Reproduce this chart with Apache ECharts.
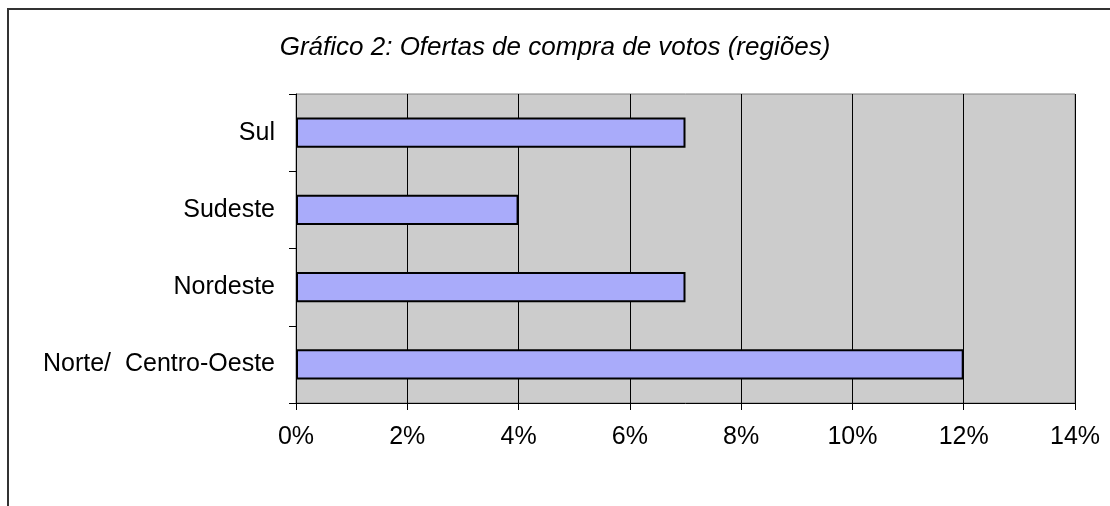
<!DOCTYPE html>
<html>
<head>
<meta charset="utf-8">
<script src="https://cdn.jsdelivr.net/npm/echarts@6/dist/echarts.min.js"></script>
<style>
  html, body { margin: 0; padding: 0; background: #fff; }
  #chart { width: 1110px; height: 506px; }
</style>
</head>
<body>
<div id="chart"></div>
<script>
  // regiões, de baixo para cima (eixo de categorias do ECharts começa embaixo)
  var regioes = ['Norte/  Centro-Oeste', 'Nordeste', 'Sudeste', 'Sul'];
  // percentual de ofertas de compra de votos
  var ofertas = [12, 7, 4, 7];
  // escala do eixo x (%)
  var escalaMin = 0;
  var escalaMax = 14;
  var escalaPasso = 2;

  var chart = echarts.init(document.getElementById('chart'));
  chart.setOption({
    animation: false,
    textStyle: { fontFamily: 'Liberation Sans, Arial, sans-serif' },
    title: {
      text: 'Gráfico 2: Ofertas de compra de votos (regiões)',
      left: 'center',
      top: 30,
      textStyle: { fontSize: 26, fontStyle: 'italic', fontWeight: 'normal', color: '#000' }
    },
    // moldura do gráfico (só topo e lado esquerdo aparecem)
    graphic: [{
      type: 'polyline',
      shape: { points: [[8, 506], [8, 9], [1110, 9]] },
      style: { stroke: '#333', lineWidth: 2, fill: null },
      silent: true
    }],
    grid: {
      left: 296, right: 35, top: 94, bottom: 103,
      show: true,
      backgroundColor: '#cccccc',
      borderColor: '#808080',
      borderWidth: 1
    },
    xAxis: {
      type: 'value',
      min: escalaMin,
      max: escalaMax,
      interval: escalaPasso,
      axisLine: { show: true, lineStyle: { color: '#000', width: 1 } },
      axisTick: { show: true, length: 7, lineStyle: { color: '#000' } },
      axisLabel: { formatter: '{value}%', fontSize: 25, color: '#000', margin: 22 },
      splitLine: { show: true, lineStyle: { color: '#000', width: 1 } }
    },
    yAxis: {
      type: 'category',
      data: regioes,
      axisLine: { show: true, lineStyle: { color: '#000', width: 1 } },
      axisTick: { show: true, length: 7, lineStyle: { color: '#000' } },
      axisLabel: { fontSize: 25, color: '#000', margin: 21 },
      splitLine: { show: false }
    },
    series: [{
      type: 'bar',
      data: ofertas,
      barCategoryGap: '61%',
      itemStyle: { color: '#a9abfa', borderColor: '#000', borderWidth: 2 }
    }]
  });
</script>
</body>
</html>
